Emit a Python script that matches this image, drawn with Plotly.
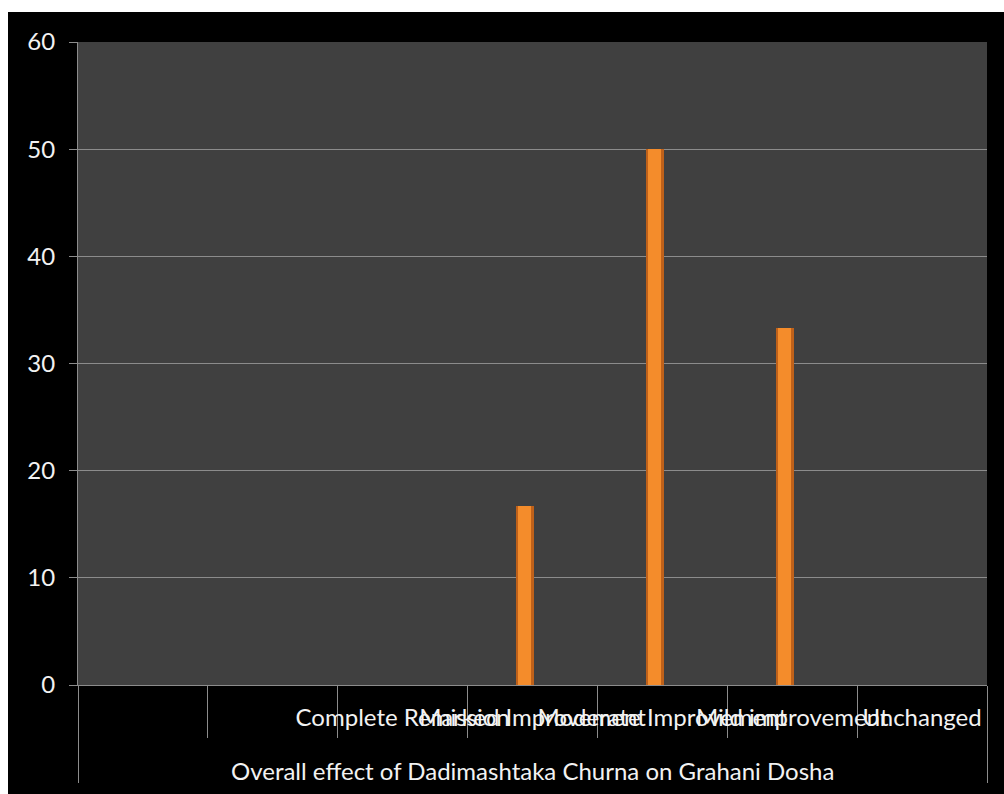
import plotly.graph_objects as go

group_label = "Overall effect of Dadimashtaka Churna on Grahani Dosha"
categories = [" ", "  ", "Complete Remission", "Marked Improvement",
              "Moderate Improvement", "Mild improvement", "Unchanged"]
values = [None, None, 0, 16.67, 50, 33.33, 0]
y_ticks = [0, 10, 20, 30, 40, 50, 60]

FONT = "Lato"
GRID = "#8C8C8C"
TXT = "#F2F2F2"
# outer level text is drawn as a centred label below; two blank lines make
# the group dividers reach down past it
xcats = [[" <br> "] * len(categories), categories]

fig = go.Figure()
# cylinder body (darker edges)
fig.add_trace(go.Bar(
    x=xcats, y=values, width=0.135, offset=-0.125,
    marker=dict(color="#BF611A", line=dict(width=0)),
    hoverinfo="y", showlegend=False))
# highlight
fig.add_trace(go.Bar(
    x=xcats, y=values, width=0.1, offset=-0.112,
    marker=dict(color="#F48C2B", line=dict(width=0)),
    hoverinfo="skip", showlegend=False))

W, H = 1004, 794
ml, mr, mt, mb = 78, 17, 42, 109
pw, ph = W - ml - mr, H - mt - mb
fig.add_shape(type="rect", xref="paper", yref="paper", layer="below",
              x0=(8 - ml) / pw, x1=(W - ml) / pw,
              y0=(H - mb - H) / ph, y1=(H - mb - 12) / ph,
              fillcolor="black", line=dict(width=0))
fig.add_shape(type="rect", xref="paper", yref="paper", layer="below",
              x0=0, x1=1, y0=0, y1=1,
              fillcolor="#404040", line=dict(width=0))

fig.add_annotation(text=group_label, xref="paper", yref="paper",
                   x=0.5, y=-(770 - (H - mb)) / ph, xanchor="center",
                   yanchor="middle", showarrow=False,
                   font=dict(family=FONT, size=24, color=TXT))

fig.update_layout(
    width=W, height=H,
    margin=dict(l=ml, r=mr, t=mt, b=mb),
    paper_bgcolor="white", plot_bgcolor="#404040",
    barmode="overlay", bargap=0,
    font=dict(family=FONT, size=24, color=TXT),
    xaxis=dict(type="multicategory", showline=True, linecolor=GRID, linewidth=1,
               ticks="outside", ticklen=52, tickcolor=GRID, tickwidth=1,
               tickangle=0, showdividers=True, dividercolor=GRID, dividerwidth=1,
               ticklabelstandoff=11,
               tickfont=dict(family=FONT, size=24, color=TXT),
               showgrid=False, automargin=False),
    yaxis=dict(range=[0, 60], tickvals=y_ticks, showgrid=True, gridcolor=GRID,
               gridwidth=1, zeroline=False, showline=True, linecolor=GRID,
               ticks="outside", ticklen=8, tickcolor=GRID,
               ticklabelstandoff=9,
               tickfont=dict(family=FONT, size=24, color=TXT)),
)

fig.write_html("out.html")
